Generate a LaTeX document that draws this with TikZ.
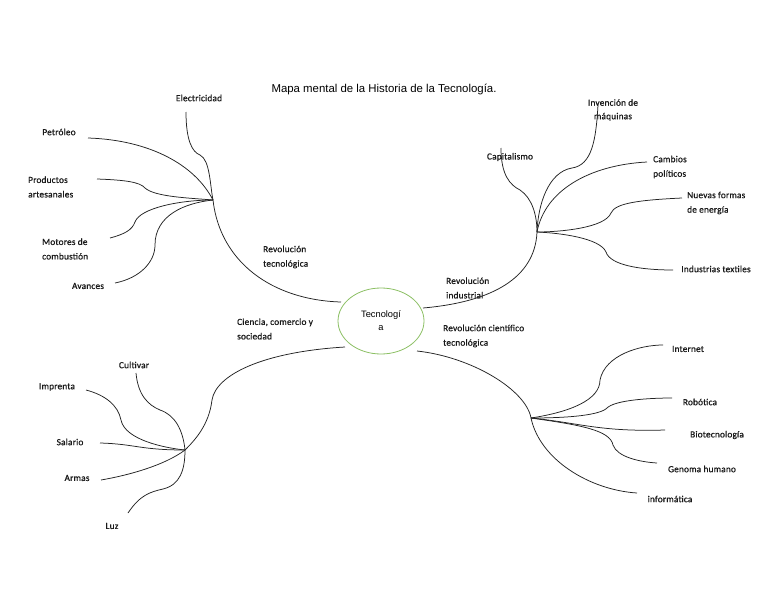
\documentclass[tikz,border=0pt]{standalone}
\usepackage{fontspec}
\setmainfont{Carlito}[LetterSpace=2,FakeBold=0.7]
\newfontfamily\titlefont{Liberation Sans}
\usetikzlibrary{shapes.geometric}
\definecolor{ellgreen}{RGB}{140,192,100}
\definecolor{linegray}{RGB}{35,35,35}
\begin{document}
\begin{tikzpicture}[x=1pt,y=-1pt,
  lbl/.style={font=\fontsize{9.3}{13.5}\selectfont, inner sep=0pt, align=center, text=black!90},
  lbll/.style={font=\fontsize{9.3}{14.5}\selectfont, inner sep=0pt, align=left, text=black!90},
  br/.style={draw=linegray, line width=0.75pt}]
\useasboundingbox (0,0) rectangle (768,594);
\fill[white] (0,0) rectangle (768,594);
% title
\node[inner sep=0pt, font=\titlefont\fontsize{11.4}{12}\selectfont] (title) at (384,89.5) {Mapa mental de la Historia de la Tecnología.};
% centre
\node[ellipse, draw=ellgreen, line width=0.8pt, minimum width=86pt, minimum height=66pt, inner sep=0pt,
  font=\titlefont\fontsize{9.3}{13}\selectfont, align=center] (C) at (381,321) {Tecnologí\\a};
% hubs and ends
\coordinate (H1) at (213,200);
\coordinate (H2) at (537,232);
\coordinate (H3) at (185,450);
\coordinate (H4) at (531,418);
\coordinate (e1) at (341,302);
\coordinate (e2) at (423,308);
\coordinate (e3) at (345,347);
\coordinate (e4) at (417,351);
% main branch labels
\node[lbll, anchor=west] (revtec) at (263,257) {Revolución\\tecnológica};
\node[lbll, anchor=west] (revind) at (446,288) {Revolución\\industrial};
\node[lbll, anchor=west] (cien) at (237,329) {Ciencia, comercio y\\sociedad};
\node[lbll, anchor=west] (revcien) at (443,336) {Revolución científico\\tecnológica};
% top-left labels
\node[lbl] (elec) at (199,98) {Electricidad};
\node[lbl] (petr) at (59,132) {Petróleo};
\node[lbll, anchor=west] (prod) at (28,187) {Productos\\artesanales};
\node[lbll, anchor=west] (mot) at (42,249) {Motores de\\combustión};
\node[lbl] (ava) at (88,286) {Avances};
% top-right labels
\node[lbl] (cap) at (510,157) {Capitalismo};
\node[lbl] (inv) at (613,110) {Invención de\\máquinas};
\node[lbll, anchor=west] (camb) at (653,167) {Cambios\\políticos};
\node[lbll, anchor=west] (nuev) at (687,203) {Nuevas formas\\de energía};
\node[lbl] (ind) at (716,269) {Industrias textiles};
% bottom-left labels
\node[lbl] (cult) at (134,365) {Cultivar};
\node[lbl] (impr) at (57,387) {Imprenta};
\node[lbl] (sal) at (70,442) {Salario};
\node[lbl] (arm) at (77,478) {Armas};
\node[lbl] (luz) at (112,526) {Luz};
% bottom-right labels
\node[lbl] (int) at (688,349) {Internet};
\node[lbl] (rob) at (700,402) {Robótica};
\node[lbl] (bio) at (717,435) {Biotecnología};
\node[lbl] (gen) at (702,469) {Genoma humano};
\node[lbl] (inf) at (670,499) {informática};
% branch end coordinates
\coordinate (elecE) at (186,112);
\coordinate (petrE) at (88,138);
\coordinate (prodE) at (97,179);
\coordinate (motE) at (110,238);
\coordinate (avaE) at (115,283);
\coordinate (capE) at (501,148);
\coordinate (invE) at (598,105);
\coordinate (cambE) at (647,162);
\coordinate (nuevE) at (682,198);
\coordinate (indE) at (673,270);
\coordinate (cultE) at (136,373);
\coordinate (imprE) at (86,390);
\coordinate (salE) at (100,443);
\coordinate (armE) at (101,480);
\coordinate (luzE) at (128,513);
\coordinate (intE) at (663,345);
\coordinate (robE) at (672,398);
\coordinate (bioE) at (665,430);
\coordinate (genE) at (657,463);
\coordinate (infE) at (637,493);
% main branches
\draw[br] (H1) .. controls (220,262) and (272,300) .. (e1);
\draw[br] (H2) .. controls (535,278) and (492,302) .. (e2);
\draw[br] (e3) .. controls (262,352) and (216,375) .. (212,400) .. controls (209,425) and (195,440) .. (H3);
\draw[br] (e4) .. controls (472,357) and (526,390) .. (H4);
% top-left
\draw[br] (elecE) .. controls (186,140) and (192,152) .. (200,155) .. controls (210,160) and (210,185) .. (H1);
\draw[br] (petrE) .. controls (150,140) and (195,165) .. (H1);
\draw[br] (prodE) .. controls (125,180) and (140,182) .. (145,188) .. controls (155,197) and (190,198) .. (H1);
\draw[br] (motE) .. controls (125,234) and (132,230) .. (135,222) .. controls (140,208) and (180,200) .. (H1);
\draw[br] (avaE) .. controls (140,278) and (155,262) .. (155,245) .. controls (155,215) and (185,203) .. (H1);
% top-right
\draw[br] (capE) .. controls (501,175) and (510,185) .. (520,190) .. controls (532,198) and (537,215) .. (H2);
\draw[br] (invE) .. controls (596,140) and (592,165) .. (572,168) .. controls (548,172) and (538,205) .. (H2);
\draw[br] (cambE) .. controls (590,165) and (545,190) .. (H2);
\draw[br] (nuevE) .. controls (640,200) and (615,203) .. (611,213) .. controls (605,228) and (560,232) .. (H2);
\draw[br] (indE) .. controls (640,270) and (610,265) .. (606,252) .. controls (600,238) and (560,233) .. (H2);
% bottom-left
\draw[br] (cultE) .. controls (138,395) and (148,405) .. (160,410) .. controls (175,415) and (183,430) .. (H3);
\draw[br] (imprE) .. controls (105,395) and (118,405) .. (121,420) .. controls (125,440) and (165,448) .. (H3);
\draw[br] (salE) .. controls (135,444) and (140,450) .. (H3);
\draw[br] (armE) .. controls (130,475) and (165,465) .. (H3);
\draw[br] (luzE) .. controls (140,495) and (150,492) .. (163,489) .. controls (180,485) and (185,470) .. (H3);
% bottom-right
\draw[br] (H4) .. controls (570,412) and (600,400) .. (600,380) .. controls (605,355) and (640,345) .. (intE);
\draw[br] (H4) .. controls (570,418) and (600,415) .. (607,408) .. controls (615,400) and (650,398) .. (robE);
\draw[br] (H4) .. controls (580,423) and (600,432) .. (bioE);
\draw[br] (H4) .. controls (580,425) and (610,430) .. (613,445) .. controls (617,457) and (640,462) .. (genE);
\draw[br] (H4) .. controls (540,460) and (590,490) .. (infE);
\end{tikzpicture}
\end{document}
